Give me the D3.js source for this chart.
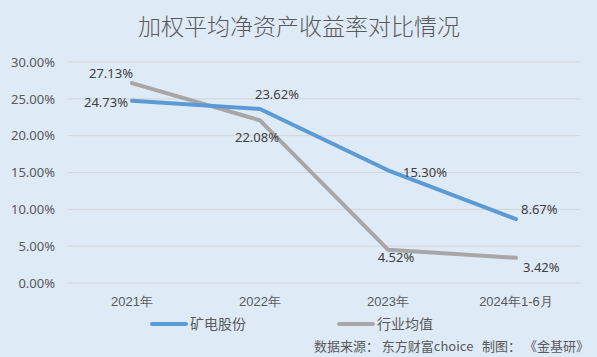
<!DOCTYPE html>
<html><head><meta charset="utf-8">
<script src="https://cdn.jsdelivr.net/npm/d3@7"></script>
<style>
html,body{margin:0;padding:0;background:#deeaf6;}
svg{display:block;font-family:"Microsoft YaHei","Noto Sans CJK SC","Noto Sans",sans-serif;}
</style></head>
<body>
<svg id="chart" width="597" height="357"></svg>
<script>
const title = "加权平均净资产收益率对比情况";
const categories = ["2021年", "2022年", "2023年", "2024年1-6月"];
const seriesNames = ["矿电股份", "行业均值"];
const companyValues = [24.73, 23.62, 15.30, 8.67];
const industryValues = [27.13, 22.08, 4.52, 3.42];
const yTicks = [0, 5, 10, 15, 20, 25, 30];
const sourceText = "数据来源： 东方财富choice   制图： 《金基研》";

const colors = ["#5b9bd5", "#a8a6a6"];
// label placement (style): [dx, dy, anchor]
const labelStyle = [
  [[-4, 2, "end"], [17, -15, "middle"], [15, 2, "start"], [5, -10, "start"]],
  [[-21, -10, "middle"], [-3, 17, "middle"], [8, 8, "middle"], [7, 10, "start"]]
];

const svg = d3.select("#chart");
const plotL = 68, plotR = 580, plotT = 62, plotB = 283;

const x = d3.scaleBand().domain(categories).range([plotL, plotR]);
const y = d3.scaleLinear().domain([0, 30]).range([plotB, plotT]);

svg.append("text").attr("x", 299).attr("y", 35).attr("text-anchor", "middle")
  .attr("font-size", 23).attr("font-weight", 300).attr("fill", "#595959").text(title);

// grid
svg.append("g").selectAll("line").data(yTicks).join("line")
  .attr("x1", plotL).attr("x2", plotR)
  .attr("y1", d => y(d)).attr("y2", d => y(d))
  .attr("stroke", "#d3d6d9").attr("stroke-width", 1);

// y axis
const yAxis = d3.axisLeft(y).tickValues(yTicks).tickSize(0).tickPadding(13)
  .tickFormat(d => d.toFixed(2) + "%");
const gy = svg.append("g").attr("transform", `translate(${plotL},0)`).call(yAxis);
gy.select(".domain").remove();
gy.selectAll("text").attr("font-size", 13).attr("fill", "#595959")
  .attr("font-family", "'Noto Sans', sans-serif");

// x axis
const xAxis = d3.axisBottom(x).tickSize(0).tickPadding(14);
const gx = svg.append("g").attr("transform", `translate(0,${plotB})`).call(xAxis);
gx.select(".domain").remove();
gx.selectAll("text").attr("font-size", 13).attr("fill", "#595959");

const line = d3.line().x((d, i) => x(categories[i]) + x.bandwidth() / 2).y(d => y(d));
const allSeries = [companyValues, industryValues];
[1, 0].forEach(s => {
  svg.append("path").datum(allSeries[s]).attr("d", line)
    .attr("fill", "none").attr("stroke", colors[s]).attr("stroke-width", 4)
    .attr("stroke-linejoin", "round").attr("stroke-linecap", "round");
});

allSeries.forEach((vals, s) => {
  svg.append("g").selectAll("text").data(vals).join("text")
    .attr("x", (d, i) => x(categories[i]) + x.bandwidth() / 2 + labelStyle[s][i][0])
    .attr("y", (d, i) => y(d) + labelStyle[s][i][1])
    .attr("dy", "0.35em")
    .attr("text-anchor", (d, i) => labelStyle[s][i][2])
    .attr("font-size", 13).attr("fill", "#404040")
    .attr("font-family", "'Noto Sans', sans-serif")
    .text(d => d.toFixed(2) + "%");
});

// legend
const legendX = [152, 339];
seriesNames.forEach((n, i) => {
  const g = svg.append("g").attr("transform", `translate(${legendX[i]},324)`);
  g.append("line").attr("x1", 0).attr("x2", 34).attr("y1", 0).attr("y2", 0)
    .attr("stroke", colors[i]).attr("stroke-width", 4).attr("stroke-linecap", "round");
  g.append("text").attr("x", 38).attr("y", 0).attr("dy", "0.35em")
    .attr("font-size", 14).attr("fill", "#595959").text(n);
});

svg.append("text").attr("x", 589).attr("y", 346).attr("dy", "0.35em").attr("text-anchor", "end")
  .attr("font-size", 13).attr("fill", "#595959")
  .style("white-space", "pre").text(sourceText);
</script>
</body></html>
